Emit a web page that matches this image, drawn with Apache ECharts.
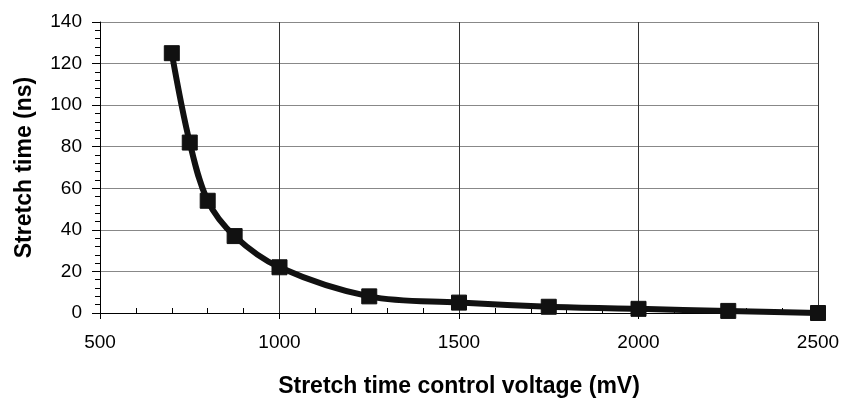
<!DOCTYPE html>
<html>
<head>
    <meta charset="utf-8">
    <title>Stretch time</title>
    <script src="https://cdn.jsdelivr.net/npm/echarts@6/dist/echarts.min.js"></script>
    <style>
        body { margin: 0; background: #fff; }
        #main { width: 844px; height: 403px; }
    </style>
</head>
<body>
    <div id="main"></div>
    <script>
        // control voltage (mV) and stretch time (ns)
        var voltage = [700, 750, 800, 875, 1000, 1250, 1500, 1750, 2000, 2250, 2500];
        var stretchTime = [125, 82, 54, 37, 22, 8, 5, 3, 2, 1, 0];

        var points = voltage.map(function (v, i) { return [v, stretchTime[i]]; });
        var font = 'Arial, "Liberation Sans", sans-serif';
        var plain = function (v) { return String(v); };

        var chart = echarts.init(document.getElementById('main'));
        chart.setOption({
            animation: false,
            grid: { left: 100, top: 22, right: 26, bottom: 90 },
            xAxis: [{
                type: 'value', min: 500, max: 2500, interval: 500,
                name: 'Stretch time control voltage (mV)',
                nameLocation: 'middle', nameGap: 62,
                nameTextStyle: { fontFamily: font, fontSize: 23, fontWeight: 'bold', color: '#000' },
                axisLine: { lineStyle: { color: '#000', width: 1 } },
                axisTick: { length: 6, lineStyle: { color: '#000' } },
                axisLabel: { fontFamily: font, fontSize: 19, color: '#000', margin: 20, formatter: plain },
                splitLine: { lineStyle: { color: '#333', width: 1 } }
            }, {
                // only carries the little inward minor ticks
                type: 'value', min: 500, max: 2500, interval: 500, position: 'bottom',
                axisLine: { show: false },
                axisTick: { show: false, inside: true },
                minorTick: { show: true, splitNumber: 5, length: 5, lineStyle: { color: '#000' } },
                axisLabel: { show: false },
                splitLine: { show: false }
            }],
            yAxis: {
                type: 'value', min: 0, max: 140, interval: 20,
                name: 'Stretch time (ns)',
                nameLocation: 'middle', nameGap: 64,
                nameTextStyle: { fontFamily: font, fontSize: 23, fontWeight: 'bold', color: '#000' },
                axisLine: { show: true, lineStyle: { color: '#000', width: 1 } },
                axisTick: { show: true, length: 8, lineStyle: { color: '#000' } },
                minorTick: { show: true, splitNumber: 5, length: 5, lineStyle: { color: '#000' } },
                axisLabel: { fontFamily: font, fontSize: 19, color: '#000', margin: 18, formatter: plain },
                splitLine: { lineStyle: { color: '#888', width: 1 } }
            },
            series: [{
                type: 'line',
                data: points,
                smooth: 0.35,
                symbol: 'rect',
                symbolSize: 15,
                lineStyle: { color: '#111', width: 6 },
                itemStyle: { color: '#111', borderColor: '#111' }
            }]
        });
    </script>
</body>
</html>
